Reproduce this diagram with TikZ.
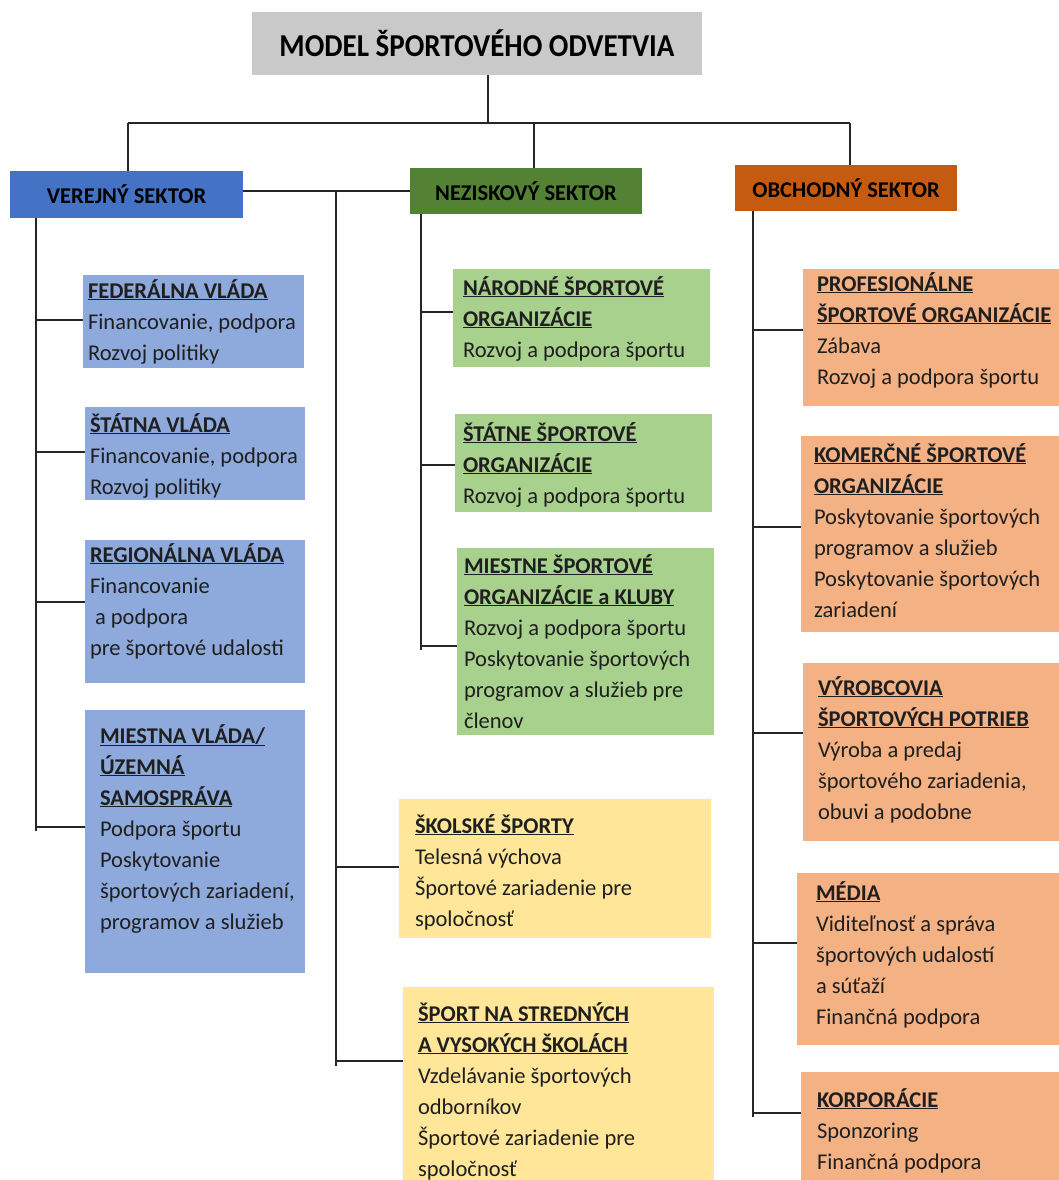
\documentclass[tikz,border=0pt]{standalone}
\usepackage{fontspec}
\setmainfont{Carlito}
\usetikzlibrary{calc}

\definecolor{titlegray}{HTML}{C9C9C9}
\definecolor{pubD}{HTML}{4472C4}
\definecolor{pubL}{HTML}{8EA9DB}
\definecolor{nonD}{HTML}{548235}
\definecolor{nonL}{HTML}{A9D18E}
\definecolor{comD}{HTML}{C55A11}
\definecolor{comL}{HTML}{F4B183}
\definecolor{schL}{HTML}{FFE699}

% underlined bold heading line inside a card
\newcommand\hd[1]{\textbf{\underline{#1}}}
% stack of lines whose baseline is the first line
\newcommand\stack[1]{\begin{tabular}[t]{@{}l@{}}#1\end{tabular}}

\tikzset{
  card/.style={anchor=north west, inner sep=0pt, outer sep=0pt, draw=none},
  sector/.style={card, font=\bfseries\fontsize{22.5}{26}\selectfont, text=black},
  txt/.style={anchor=base west, inner sep=0pt, outer sep=0pt,
              font=\fontsize{22.5}{31}\selectfont, text=black!88},
  wire/.style={draw=black!85, line width=1.6pt},
}

\begin{document}
\begin{tikzpicture}[x=1pt, y=-1pt]
\useasboundingbox (0,0) rectangle (1059,1180);

% ---------- top level ----------
\node[card, fill=titlegray, minimum width=450pt, minimum height=63pt,
      font=\bfseries\fontsize{29}{34}\selectfont] (title) at (252,12)
      {\scalebox{1}[1.1]{MODEL ŠPORTOVÉHO ODVETVIA}};

\node[sector, fill=pubD, minimum width=233pt, minimum height=47pt] (pub) at (10,171) {VEREJNÝ SEKTOR};
\node[sector, fill=nonD, minimum width=232pt, minimum height=46pt] (non) at (410,168) {NEZISKOVÝ SEKTOR};
\node[sector, fill=comD, minimum width=222pt, minimum height=46pt] (com) at (735,165) {OBCHODNÝ SEKTOR};

% ---------- public sector cards ----------
\node[card, fill=pubL, minimum width=221pt, minimum height=93pt] (fed) at (83,275) {};
\node[txt] (fedT) at (88,298) {\stack{\hd{FEDERÁLNA VLÁDA}\\ Financovanie, podpora\\ Rozvoj politiky}};

\node[card, fill=pubL, minimum width=220pt, minimum height=93pt] (sta) at (85,407) {};
\node[txt] (staT) at (90,432) {\stack{\hd{ŠTÁTNA VLÁDA}\\ Financovanie, podpora\\ Rozvoj politiky}};

\node[card, fill=pubL, minimum width=220pt, minimum height=143pt] (reg) at (85,540) {};
\node[txt] (regT) at (90,562) {\stack{\hd{REGIONÁLNA VLÁDA}\\ Financovanie\\ \hspace*{5pt}a podpora\\ pre športové udalosti}};

\node[card, fill=pubL, minimum width=220pt, minimum height=263pt] (loc) at (85,710) {};
\node[txt] (locT) at (100,743) {\stack{\hd{MIESTNA VLÁDA/}\\ \hd{ÚZEMNÁ}\\ \hd{SAMOSPRÁVA}\\ Podpora športu\\ Poskytovanie\\ športových zariadení,\\ programov a služieb}};

% ---------- non-profit sector cards ----------
\node[card, fill=nonL, minimum width=257pt, minimum height=98pt] (nar) at (453,269) {};
\node[txt] (narT) at (463,295) {\stack{\hd{NÁRODNÉ ŠPORTOVÉ}\\ \hd{ORGANIZÁCIE}\\ Rozvoj a podpora športu}};

\node[card, fill=nonL, minimum width=257pt, minimum height=98pt] (stn) at (455,414) {};
\node[txt] (stnT) at (463,441) {\stack{\hd{ŠTÁTNE ŠPORTOVÉ}\\ \hd{ORGANIZÁCIE}\\ Rozvoj a podpora športu}};

\node[card, fill=nonL, minimum width=257pt, minimum height=187pt] (mie) at (457,548) {};
\node[txt] (mieT) at (464,573) {\stack{\hd{MIESTNE ŠPORTOVÉ}\\ \hd{ORGANIZÁCIE a KLUBY}\\ Rozvoj a podpora športu\\ Poskytovanie športových\\ programov a služieb pre\\ členov}};

% ---------- school cards ----------
\node[card, fill=schL, minimum width=312pt, minimum height=139pt] (sko) at (399,799) {};
\node[txt] (skoT) at (415,833) {\stack{\hd{ŠKOLSKÉ ŠPORTY}\\ Telesná výchova\\ Športové zariadenie pre\\ spoločnosť}};

\node[card, fill=schL, minimum width=311pt, minimum height=193pt] (vys) at (403,987) {};
\node[txt] (vysT) at (418,1021) {\stack{\hd{ŠPORT NA STREDNÝCH}\\ \hd{A VYSOKÝCH ŠKOLÁCH}\\ Vzdelávanie športových\\ odborníkov\\ Športové zariadenie pre\\ spoločnosť}};

% ---------- commercial sector cards ----------
\node[card, fill=comL, minimum width=256pt, minimum height=137pt] (pro) at (803,269) {};
\node[txt] (proT) at (817,291) {\stack{\hd{PROFESIONÁLNE}\\ \hd{ŠPORTOVÉ ORGANIZÁCIE}\\ Zábava\\ Rozvoj a podpora športu}};

\node[card, fill=comL, minimum width=258pt, minimum height=196pt] (kom) at (801,436) {};
\node[txt] (komT) at (814,462) {\stack{\hd{KOMERČNÉ ŠPORTOVÉ}\\ \hd{ORGANIZÁCIE}\\ Poskytovanie športových\\ programov a služieb\\ Poskytovanie športových\\ zariadení}};

\node[card, fill=comL, minimum width=256pt, minimum height=178pt] (vyr) at (803,663) {};
\node[txt] (vyrT) at (818,695) {\stack{\hd{VÝROBCOVIA}\\ \hd{ŠPORTOVÝCH POTRIEB}\\ Výroba a predaj\\ športového zariadenia,\\ obuvi a podobne}};

\node[card, fill=comL, minimum width=262pt, minimum height=172pt] (med) at (797,873) {};
\node[txt] (medT) at (816,900) {\stack{\hd{MÉDIA}\\ Viditeľnosť a správa\\ športových udalostí\\ a súťaží\\ Finančná podpora}};

\node[card, fill=comL, minimum width=258pt, minimum height=108pt] (kor) at (801,1072) {};
\node[txt] (korT) at (817,1107) {\stack{\hd{KORPORÁCIE}\\ Sponzoring\\ Finančná podpora}};

% ---------- connectors ----------
\coordinate (busT) at (488,123);
\coordinate (busL) at (128,123);
\coordinate (busM) at (534,123);
\coordinate (busR) at (850,123);
\draw[wire] (title.south -| busT) -- (busT);
\draw[wire] (busL) -- (busR);
\draw[wire] (busL) -- (busL |- pub.north);
\draw[wire] (busM) -- (busM |- non.north);
\draw[wire] (busR) -- (busR |- com.north);

% public sector spine
\coordinate (pubS) at (36,218);
\coordinate (pubE) at (36,831);
\draw[wire] (pubS) -- (pubE);
\draw[wire] (pubE |- 0,320) -- (fed.west |- 0,320);
\draw[wire] (pubE |- 0,452) -- (sta.west |- 0,452);
\draw[wire] (pubE |- 0,602) -- (reg.west |- 0,602);
\draw[wire] (pubE |- 0,827) -- (loc.west |- 0,827);

% link between public and non-profit sectors, with the school spine
\draw[wire] (pub.east |- 0,191) -- (non.west |- 0,191);
\coordinate (schS) at (336,191);
\coordinate (schE) at (336,1066);
\draw[wire] (schS) -- (schE);
\draw[wire] (schE |- 0,867) -- (sko.west |- 0,867);
\draw[wire] (schE |- 0,1061) -- (vys.west |- 0,1061);

% non-profit sector spine
\coordinate (nonS) at (421,214);
\coordinate (nonE) at (421,650);
\draw[wire] (nonS) -- (nonE);
\draw[wire] (nonE |- 0,312) -- (nar.west |- 0,312);
\draw[wire] (nonE |- 0,465) -- (stn.west |- 0,465);
\draw[wire] (nonE |- 0,646) -- (mie.west |- 0,646);

% commercial sector spine
\coordinate (comS) at (753,211);
\coordinate (comE) at (753,1117);
\draw[wire] (comS) -- (comE);
\draw[wire] (comE |- 0,330) -- (pro.west |- 0,330);
\draw[wire] (comE |- 0,527) -- (kom.west |- 0,527);
\draw[wire] (comE |- 0,733) -- (vyr.west |- 0,733);
\draw[wire] (comE |- 0,943) -- (med.west |- 0,943);
\draw[wire] (comE |- 0,1113) -- (kor.west |- 0,1113);
\end{tikzpicture}
\end{document}
